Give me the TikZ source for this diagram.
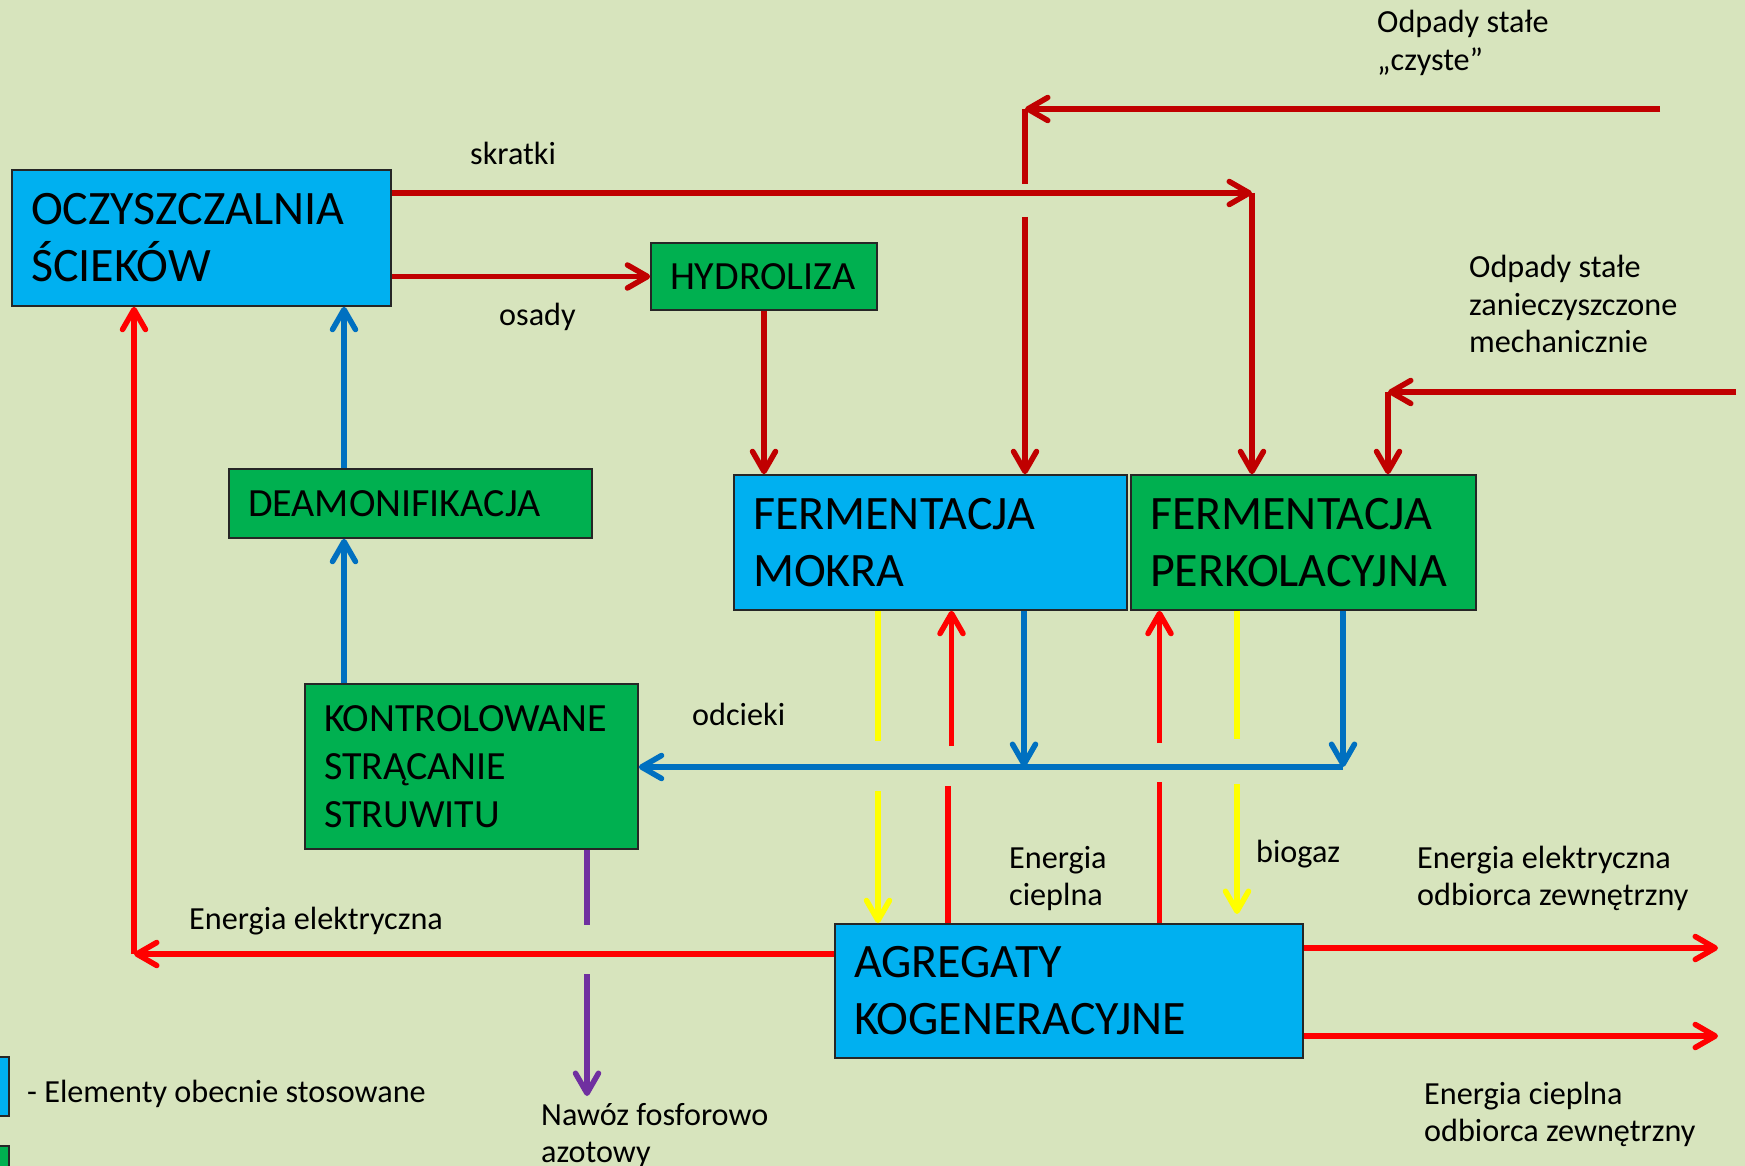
\documentclass[tikz,border=0pt]{standalone}
\usepackage{fontspec}
\setmainfont{Carlito}
\usetikzlibrary{arrows.meta}

\definecolor{bgc}{HTML}{D7E4BD}
\definecolor{boxblue}{HTML}{00B0F0}
\definecolor{boxgreen}{HTML}{00B050}
\definecolor{flowdark}{HTML}{C00000}
\definecolor{flowred}{HTML}{FF0000}
\definecolor{flowblue}{HTML}{0070C0}
\definecolor{flowyellow}{HTML}{FFFF00}
\definecolor{flowpurple}{HTML}{7030A0}

\newcommand{\bigtxt}{\fontsize{48}{57}\selectfont}
\newcommand{\midtxt}{\fontsize{40}{48}\selectfont}
\newcommand{\smalltxt}{\fontsize{32.2}{37.5}\selectfont}
\newcommand{\lines}[1]{\begin{tabular}[t]{@{}l@{}}#1\end{tabular}}

\tikzset{
  procbox/.style={draw=black!85, line width=1.6pt, align=left, inner xsep=19pt, inner ysep=0pt},
  bluebox/.style={procbox, fill=boxblue},
  greenbox/.style={procbox, fill=boxgreen},
  lbl/.style={anchor=base west, inner sep=0pt, font=\smalltxt},
  flow/.style={line width=5.5pt},
  tipped/.style={flow, -{Straight Barb[length=20pt,width=23pt,round]}},
  darkflow/.style={flow, draw=flowdark},
  darkarrow/.style={tipped, draw=flowdark},
  redflow/.style={flow, draw=flowred},
  redarrow/.style={tipped, draw=flowred},
  blueflow/.style={tipped, draw=flowblue},
  yellowflow/.style={flow, draw=flowyellow},
  yellowarrow/.style={tipped, draw=flowyellow},
  purpleflow/.style={flow, draw=flowpurple},
  purplearrow/.style={tipped, draw=flowpurple},
}

\begin{document}
\begin{tikzpicture}[x=1pt, y=-1pt]
  \useasboundingbox (0,0) rectangle (1745,1166);
  \clip (0,0) rectangle (1745,1166);
  \fill[bgc] (0,0) rectangle (1745,1166);

  % process boxes
  \node[bluebox, minimum width=379pt, minimum height=136pt, text width=341pt, font=\bigtxt]
    (ocz) at (201.5,238) {OCZYSZCZALNIA\\ŚCIEKÓW};
  \node[greenbox, minimum width=226pt, minimum height=67pt, text width=188pt, font=\midtxt]
    (hyd) at (764,276.5) {HYDROLIZA};
  \node[greenbox, minimum width=363pt, minimum height=69pt, text width=325pt, font=\midtxt]
    (deam) at (410.5,503.5) {DEAMONIFIKACJA};
  \node[bluebox, minimum width=393pt, minimum height=135pt, text width=355pt, font=\bigtxt]
    (mokra) at (930.5,542.5) {FERMENTACJA\\MOKRA};
  \node[greenbox, minimum width=345pt, minimum height=135pt, text width=307pt, font=\bigtxt]
    (perk) at (1303.5,542.5) {FERMENTACJA\\PERKOLACYJNA};
  \node[greenbox, minimum width=333pt, minimum height=165pt, text width=295pt, font=\midtxt]
    (kon) at (471.5,766.5) {KONTROLOWANE\\STRĄCANIE\\STRUWITU};
  \node[bluebox, minimum width=468pt, minimum height=134pt, text width=430pt, font=\bigtxt]
    (agr) at (1069,991) {AGREGATY\\KOGENERACYJNE};

  % legend swatches
  \node[draw=black!85, line width=1.6pt, fill=boxblue, minimum width=40pt, minimum height=59pt, inner sep=0pt]
    (legblue) at (-11,1086.5) {};
  \node[draw=black!85, line width=1.6pt, fill=boxgreen, minimum width=40pt, minimum height=59pt, inner sep=0pt]
    (leggreen) at (-11,1175.5) {};
  \node[lbl] (legtxt) at (27,1102) {- Elementy obecnie stosowane};

  % bend and gap points
  \coordinate (skr) at (1252,193);
  \coordinate (czS) at (1660,109);
  \coordinate (czC) at (1025,109);
  \coordinate (czG1) at (1025,184);
  \coordinate (czG2) at (1025,217);
  \coordinate (zanS) at (1736,392);
  \coordinate (zanC) at (1388,392);
  \coordinate (bx) at (344,0);
  \coordinate (eL) at (134,954);
  \coordinate (px) at (587,0);
  \coordinate (pxG1) at (587,925);
  \coordinate (pxG2) at (587,974);
  \coordinate (pxE) at (587,1096);
  \coordinate (odR) at (1343,767);
  \coordinate (odM) at (1024,767);
  \coordinate (yA) at (878,0);
  \coordinate (yA1) at (878,741);
  \coordinate (yA2) at (878,791);
  \coordinate (yB) at (1237,0);
  \coordinate (yB1) at (1237,739);
  \coordinate (yB2) at (1237,784);
  \coordinate (yBE) at (1237,914);
  \coordinate (rA) at (948,786);
  \coordinate (rAu) at (951.5,746);
  \coordinate (rB) at (1159.5,782);
  \coordinate (rBu) at (1159.5,743);
  \coordinate (outE) at (1718,948);
  \coordinate (outC) at (1718,1036);

  % screenings, sludge and solid waste (dark red)
  \draw[darkarrow] (ocz.east |- skr) -- (skr);
  \draw[darkarrow] (skr) -- (skr |- perk.north);
  \draw[darkarrow] (ocz.east |- hyd.west) -- (hyd.west);
  \draw[darkarrow] (hyd.south) -- (hyd.south |- mokra.north);
  \draw[darkarrow] (czS) -- (czC);
  \draw[darkflow] (czC) -- (czG1);
  \draw[darkarrow] (czG2) -- (czG2 |- mokra.north);
  \draw[darkarrow] (zanS) -- (zanC);
  \draw[darkarrow] (zanC) -- (zanC |- perk.north);

  % nitrogen removal and leachate (blue)
  \draw[blueflow] (deam.north -| bx) -- (ocz.south -| bx);
  \draw[blueflow] (kon.north -| bx) -- (deam.south -| bx);
  \draw[blueflow] (odR) -- (kon.east |- odR);
  \draw[blueflow] (mokra.south -| odM) -- (odM);
  \draw[blueflow] (perk.south -| odR) -- (odR);

  % biogas (yellow)
  \draw[yellowflow] (mokra.south -| yA) -- (yA1);
  \draw[yellowarrow] (yA2) -- (agr.north -| yA);
  \draw[yellowflow] (perk.south -| yB) -- (yB1);
  \draw[yellowarrow] (yB2) -- (yBE);

  % heat and electricity (red)
  \draw[redflow] (agr.north -| rA) -- (rA);
  \draw[redarrow] (rAu) -- (mokra.south -| rAu);
  \draw[redflow] (agr.north -| rB) -- (rB);
  \draw[redarrow] (rBu) -- (perk.south -| rBu);
  \draw[redarrow] (agr.west |- eL) -- (eL);
  \draw[redarrow] (eL) -- (eL |- ocz.south);
  \draw[redarrow] (agr.east |- outE) -- (outE);
  \draw[redarrow] (agr.east |- outC) -- (outC);

  % fertiliser (purple)
  \draw[purpleflow] (kon.south -| px) -- (pxG1);
  \draw[purplearrow] (pxG2) -- (pxE);

  % labels
  \node[lbl] (tskr) at (470,165) {skratki};
  \node[lbl] (tos) at (499,325) {osady};
  \node[lbl] (tcz) at (1377,33) {\lines{Odpady stałe\\„czyste”}};
  \node[lbl] (tzan) at (1469,278) {\lines{Odpady stałe\\zanieczyszczone\\mechanicznie}};
  \node[lbl] (todc) at (692,725) {odcieki};
  \node[lbl] (tcie) at (1009,868) {\lines{Energia\\cieplna}};
  \node[lbl] (tbio) at (1256,862) {biogaz};
  \node[lbl] (tee) at (1417,868) {\lines{Energia elektryczna\\odbiorca zewnętrzny}};
  \node[lbl] (tel) at (189,929) {Energia elektryczna};
  \node[lbl] (tnaw) at (541,1125) {\lines{Nawóz fosforowo\\azotowy}};
  \node[lbl] (tec) at (1424,1104) {\lines{Energia cieplna\\odbiorca zewnętrzny}};
\end{tikzpicture}
\end{document}
